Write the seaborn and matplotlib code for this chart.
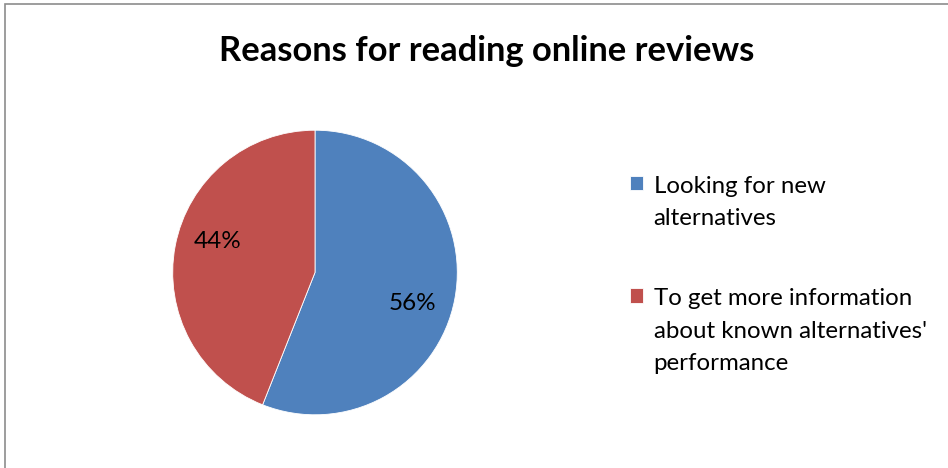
import numpy as np
import seaborn as sns
import matplotlib.pyplot as plt
from matplotlib.patches import Rectangle

# Chart data
reasons = ['Looking for new\nalternatives',
           "To get more information\nabout known alternatives'\nperformance"]
shares = [56, 44]
colors = ['#4F81BD', '#C0504D']

sns.set_style('white')
plt.rcParams['font.family'] = ['Lato', 'DejaVu Sans']
plt.rcParams['text.color'] = 'black'

fig = plt.figure(figsize=(9.48, 4.68), dpi=100)
ax = fig.add_axes([172 / 948, 1 - 416 / 468, 286 / 948, 287 / 468])

# Pie drawn clockwise from 12 o'clock like Excel
wedges, texts, autotexts = ax.pie(shares, colors=colors, startangle=90, counterclock=False,
                                  autopct='%1.0f%%', pctdistance=0.72,
                                  textprops={'fontsize': 17.5, 'color': 'black'},
                                  wedgeprops={'linewidth': 0.6, 'edgecolor': 'white'})
# Excel puts the labels a little clockwise of the slice middle
for w, t in zip(wedges, autotexts):
    ang = np.deg2rad((w.theta1 + w.theta2) / 2 - 7)
    t.set_position((0.72 * np.cos(ang), 0.72 * np.sin(ang)))
ax.set_xlim(-1.005, 1.005)
ax.set_ylim(-1.005, 1.005)
ax.set_aspect('equal')

# Title
fig.text(0.513, 1 - 51 / 468, 'Reasons for reading online reviews',
         ha='center', va='center', fontsize=24.8, fontweight='bold', color='black')

# Legend to the right of the pie
leg = fig.legend(wedges, reasons, loc='upper left', bbox_to_anchor=(608 / 948, 1 - 154 / 468),
                 frameon=False, fontsize=17.3, handlelength=0.55, handleheight=0.55,
                 handletextpad=0.45, labelspacing=2.45)
for t in leg.get_texts():
    t.set_linespacing(1.68)
# keep each square beside the first line of its label
for col in leg._legend_handle_box.get_children():
    for item in col.get_children():
        item.align = 'top'

# Outer chart border (right and bottom edges fall off the image)
fig.patches.append(Rectangle((5 / 948, -0.1), 1.2, 1 - 4 / 468 + 0.1, transform=fig.transFigure,
                             fill=False, edgecolor='#8c8c8c', linewidth=1.2))

fig.savefig('out.png', dpi=100)
